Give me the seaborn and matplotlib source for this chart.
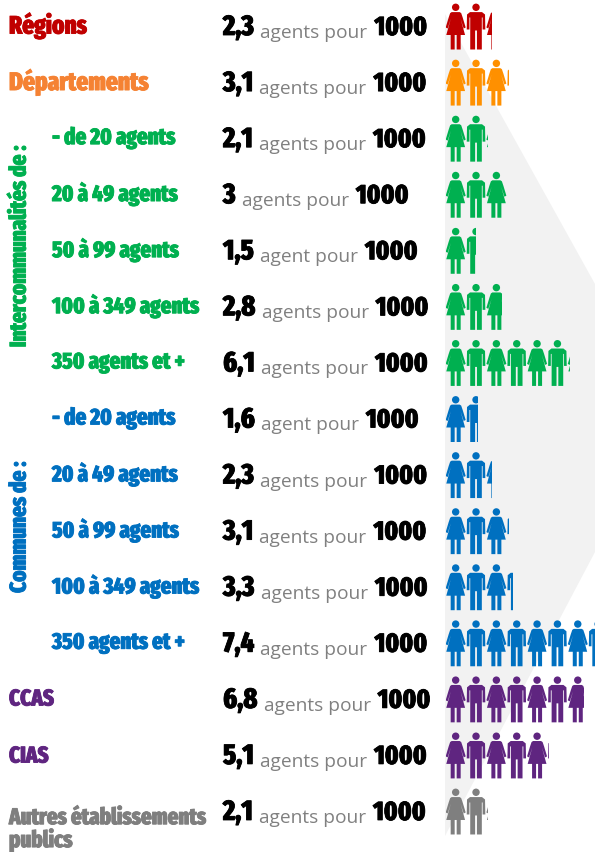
import matplotlib
matplotlib.use("Agg")
import matplotlib.pyplot as plt
import matplotlib.patheffects as pe
from matplotlib.path import Path
from matplotlib.patches import PathPatch, Polygon
import numpy as np
import pandas as pd
import seaborn as sns

categories = ["Régions", "Départements", "- de 20 agents", "20 à 49 agents", "50 à 99 agents",
              "100 à 349 agents", "350 agents et +", "- de 20 agents ", "20 à 49 agents ",
              "50 à 99 agents ", "100 à 349 agents ", "350 agents et + ", "CCAS", "CIAS",
              "Autres établissements\npublics"]
values = [2.3, 3.1, 2.1, 3.0, 1.5, 2.8, 6.1, 1.6, 2.3, 3.1, 3.3, 7.4, 6.8, 5.1, 2.1]
groups = ["reg", "dep", "int", "int", "int", "int", "int", "com", "com", "com", "com", "com",
          "ccas", "cias", "aut"]
icon_colors = {"reg": "#C00000", "dep": "#FF9000", "int": "#00B050", "com": "#0070C0",
               "ccas": "#5F2580", "cias": "#5F2580", "aut": "#7F7F7F"}
text_colors = dict(icon_colors, dep="#F58233")

W, H = 595, 853
PITCH_X, PITCH_Y = 20.35, 56.07
TOP_Y, LEFT_X = 27.5, 445.5

sns.set_theme(style="white")
NARROW = ["Fira Sans Extra Condensed", "Liberation Sans", "DejaVu Sans"]
LIGHT = ["Open Sans", "DejaVu Sans"]

fig = plt.figure(figsize=(W / 100, H / 100), dpi=100)
bg = fig.add_axes([0, 0, 1, 1])
bg.set_xlim(0, W); bg.set_ylim(H, 0); bg.axis("off")
bg.add_patch(Polygon([(445, 15), (595, 285), (595, 553), (445, 837)], closed=True,
                     fc="#F2F2F2", ec="none"))


def bold(x, y, s, size, color, **kw):
    return bg.text(x, y, s, fontsize=size, color=color, family=NARROW, fontweight=800,
                   path_effects=[pe.withStroke(linewidth=0.6, foreground=color)], **kw)


df = pd.DataFrame({"label": categories, "val": values, "grp": groups})
y_px = [TOP_Y + i * PITCH_Y for i in range(len(df))]
renderer = fig.canvas.get_renderer()

label_x = {"reg": 9, "dep": 9, "ccas": 9, "cias": 9, "aut": 9, "int": 52, "com": 52}
label_size = {"reg": 18.2, "dep": 18.2, "ccas": 16.4, "cias": 16.4, "aut": 16.4, "int": 16.4, "com": 16.4}
label_dy = {"reg": -0.5, "dep": -0.5, "ccas": -0.5, "cias": 0.5, "aut": 0, "int": -1, "com": -1}
for i, r in df.iterrows():
    c = text_colors[r.grp]
    if r.grp == "aut":
        bold(9, 830, r.label.strip(), label_size[r.grp], c, va="center", ha="left", linespacing=0.95)
    else:
        bold(label_x[r.grp], y_px[i] + label_dy[r.grp], r.label.strip(), label_size[r.grp], c,
             va="center", ha="left")
    # value sentence, chained from measured widths
    num = f"{r.val:g}".replace(".", ",")
    base = y_px[i] + 8.5
    t = bold(223, base, num, 20.5, "black", va="baseline", ha="left")
    x = bg.transData.inverted().transform(t.get_window_extent(renderer).p1)[0] + 6
    word = "agent pour" if r.val < 2 else "agents pour"
    t = bg.text(x, base + 2, word, fontsize=13.8, color="#808080", family=LIGHT,
                va="baseline", ha="left")
    x = bg.transData.inverted().transform(t.get_window_extent(renderer).p1)[0] + 7
    bold(x, base, "1000", 19.3, "black", va="baseline", ha="left")

bold(19, 247, "Intercommunalités de :", 16.4, text_colors["int"], rotation=90, va="center", ha="center")
bold(19, 528, "Communes de :", 16.4, text_colors["com"], rotation=90, va="center", ha="center")

# pictogram axes: x in persons, y in rows
ax = fig.add_axes([LEFT_X / W, (H - (TOP_Y + 14.5 * PITCH_Y)) / H, (W - LEFT_X) / W,
                   15 * PITCH_Y / H])
ax.patch.set_alpha(0)
sns.barplot(data=df, x="val", y="label", order=categories, width=1.0, ax=ax, color="white",
            orient="h", saturation=1, errorbar=None)
ax.set_xlim(0, (W - LEFT_X) / PITCH_X)
ax.set_ylim(14.5, -0.5)
ax.axis("off")


def circle(cx, cy, r):
    p = Path.unit_circle()
    return Path(p.vertices * r + [cx, cy], p.codes)


def poly(pts):
    pts = list(pts) + [pts[0]]
    return Path(pts, [Path.MOVETO] + [Path.LINETO] * (len(pts) - 2) + [Path.CLOSEPOLY])


# glyph outlines, px relative to head axis / top of figure
def woman():
    return Path.make_compound_path(
        circle(0, 3.8, 3.7),
        poly([(-4, 8.6), (4, 8.6), (5.5, 9.6), (7, 14), (10, 24), (8, 25), (4.8, 15),
              (9.4, 31.5), (5, 31.5), (5, 46), (1, 46), (1, 31.5), (-1, 31.5), (-1, 46), (-5, 46),
              (-5, 31.5), (-9.4, 31.5), (-4.8, 15), (-8, 25), (-10, 24), (-7, 14), (-5.5, 9.6)]))


def man():
    return Path.make_compound_path(
        circle(0, 3.8, 3.7),
        poly([(-6, 8.6), (6, 8.6), (9, 11), (9.3, 26), (6.6, 26), (6.6, 14), (5.8, 14), (5.8, 46),
              (0.9, 46), (0.9, 27), (-0.9, 27), (-0.9, 46), (-5.8, 46), (-5.8, 14), (-6.6, 14),
              (-6.6, 26), (-9.3, 26), (-9, 11)]))


shapes = [woman(), man()]
for i, (bar, r) in enumerate(zip(list(ax.patches), df.itertuples())):
    bar.set_facecolor("none")
    bar.set_edgecolor("none")
    n = int(np.ceil(r.val)) + 1
    for k in range(n):
        s = shapes[k % 2]
        verts = s.vertices.copy()
        verts[:, 0] = (k + 0.5) + verts[:, 0] / PITCH_X
        verts[:, 1] = i + (verts[:, 1] - 23) / PITCH_Y
        patch = PathPatch(Path(verts, s.codes), fc=icon_colors[r.grp], ec="none", lw=0)
        ax.add_patch(patch)
        patch.set_clip_path(bar)

fig.savefig("out.png", dpi=100)
